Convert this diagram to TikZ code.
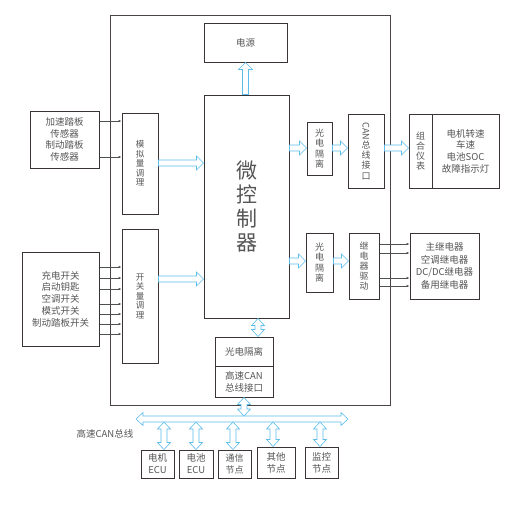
\documentclass[tikz,border=0pt]{standalone}
\usepackage{fontspec}
\usepackage{graphicx}
\usepackage{tikz}
\usetikzlibrary{calc,arrows.meta}
\setmainfont{Noto Sans CJK SC}
\definecolor{boxline}{HTML}{3A3434}
\definecolor{frameline}{HTML}{4A4444}
\definecolor{boxtext}{HTML}{555555}
\definecolor{flowblue}{HTML}{5CBDEB}
\definecolor{wireline}{HTML}{505050}

\begin{document}
\begin{tikzpicture}[x=1pt, y=-1pt,
        box/.style={draw=boxline, line width=1pt, text=boxtext, inner sep=0pt, align=center,
            font=\fontsize{9.5}{11.7}\selectfont},
        narrow/.style={box, font=\fontsize{9}{10.2}\selectfont},
        wire/.style={draw=wireline, line width=0.6pt, -{Latex[length=3pt,width=2.6pt]}},
        hollow/.style={draw=flowblue, line width=0.6pt, fill=white,
            to path={let \p1=($(\tikztotarget)-(\tikztostart)$), \n1={veclen(\x1,\y1)},
                \n2={atan2(\y1,\x1)} in
                ($(\tikztostart)+(\n2+90:3pt)$) -- ($(\tikztostart)+(\n2:\n1-7pt)+(\n2+90:3pt)$)
                -- ($(\tikztostart)+(\n2:\n1-7pt)+(\n2+90:7pt)$) -- (\tikztotarget)
                -- ($(\tikztostart)+(\n2:\n1-7pt)+(\n2-90:7pt)$)
                -- ($(\tikztostart)+(\n2:\n1-7pt)+(\n2-90:3pt)$)
                -- ($(\tikztostart)+(\n2-90:3pt)$) -- cycle}},
        hollow both/.style={draw=flowblue, line width=0.6pt, fill=white,
            to path={let \p1=($(\tikztotarget)-(\tikztostart)$), \n1={veclen(\x1,\y1)},
                \n2={atan2(\y1,\x1)} in
                (\tikztostart) -- ($(\tikztostart)+(\n2:7pt)+(\n2+90:6.5pt)$)
                -- ($(\tikztostart)+(\n2:7pt)+(\n2+90:3pt)$)
                -- ($(\tikztostart)+(\n2:\n1-7pt)+(\n2+90:3pt)$)
                -- ($(\tikztostart)+(\n2:\n1-7pt)+(\n2+90:6.5pt)$) -- (\tikztotarget)
                -- ($(\tikztostart)+(\n2:\n1-7pt)+(\n2-90:6.5pt)$)
                -- ($(\tikztostart)+(\n2:\n1-7pt)+(\n2-90:3pt)$)
                -- ($(\tikztostart)+(\n2:7pt)+(\n2-90:3pt)$)
                -- ($(\tikztostart)+(\n2:7pt)+(\n2-90:6.5pt)$) -- cycle}}]
    \useasboundingbox (0,0) rectangle (513,506);
    \draw[frameline, line width=1pt] (110,15) rectangle (390,405);

    \node[box, minimum width=83pt, minimum height=39pt] (power) at (245.5,42.5) {电源};
    \node[box, minimum width=85pt, minimum height=223pt, font=\fontsize{21}{24}\selectfont]
        (mcu) at (246.5,206.5) {微\\控\\制\\器};
    \node[box, minimum width=36pt, minimum height=101pt, font=\fontsize{8.5}{9.5}\selectfont]
        (analog) at (140,163.5) {模\\拟\\量\\调\\理};
    \node[box, minimum width=36pt, minimum height=134pt, font=\fontsize{8.5}{9.5}\selectfont]
        (switch) at (140,296) {开\\关\\量\\调\\理};
    \node[box, minimum width=69pt, minimum height=57pt] (sensor) at (64.5,139.5)
        {加速踏板\\传感器\\制动踏板\\传感器};
    \node[box, minimum width=77pt, minimum height=94pt] (switches) at (60.5,299)
        {充电开关\\启动钥匙\\空调开关\\模式开关\\制动踏板开关};

    \node[narrow, minimum width=25pt, minimum height=53pt] (iso1) at (319.5,148.5) {光\\电\\隔\\离};
    \node[narrow, minimum width=36pt, minimum height=74pt] (can) at (366,151)
        {\rotatebox{-90}{CAN}\\总\\线\\接\\口};
    \node[narrow, minimum width=23pt, minimum height=74pt] (dash) at (420.5,151) {组\\合\\仪\\表};
    \node[box, minimum width=67pt, minimum height=74pt] (dashinfo) at (465.5,151)
        {电机转速\\车速\\电池SOC\\故障指示灯};
    \node[narrow, minimum width=27pt, minimum height=59pt] (iso2) at (319.5,262.5) {光\\电\\隔\\离};
    \node[narrow, minimum width=30pt, minimum height=66pt] (drv) at (364,266) {继\\电\\器\\驱\\动};
    \node[box, minimum width=69pt, minimum height=66pt, font=\fontsize{9.5}{12.5}\selectfont]
        (relays) at (444.5,266) {主继电器\\空调继电器\\DC/DC继电器\\备用继电器};

    \node[box, minimum width=58pt, minimum height=29pt] (iso3) at (244,351.5) {光电隔离};
    \node[box, minimum width=58pt, minimum height=31pt, font=\fontsize{9.5}{12}\selectfont]
        (hcan) at (244,381.5) {高速CAN\\总线接口};

    \node[box, minimum width=33pt, minimum height=28pt, font=\fontsize{9.5}{12}\selectfont]
        (ecu1) at (157.5,464) {电机\\ECU};
    \node[box, minimum width=34pt, minimum height=28pt, font=\fontsize{9.5}{12}\selectfont]
        (ecu2) at (196,464) {电池\\ECU};
    \node[box, minimum width=33pt, minimum height=28pt, font=\fontsize{9}{12}\selectfont]
        (comm) at (234.5,464) {通信\\节点};
    \node[box, minimum width=38pt, minimum height=31pt, font=\fontsize{9.5}{12}\selectfont]
        (other) at (276,462.5) {其他\\节点};
    \node[box, minimum width=33pt, minimum height=31pt, font=\fontsize{9.5}{12}\selectfont]
        (mon) at (321.5,462.5) {监控\\节点};
    \node[text=boxtext, font=\fontsize{9.5}{12}\selectfont] (buslabel) at (105,434) {高速CAN总线};

    \coordinate (busL) at (136,419);
    \coordinate (busR) at (348,419);
    \coordinate (isotop) at ($(iso3.north)+(14,0)$);

    \foreach \yy in {121,157}
        \draw[wire] (sensor.east |- 0,\yy) -- (analog.west |- 0,\yy);
    \foreach \yy in {267,278,289,304,314,324,334}
        \draw[wire] (switches.east |- 0,\yy) -- (switch.west |- 0,\yy);
    \foreach \yy in {244,253,278,286}
        \draw[wire] (drv.east |- 0,\yy) -- (relays.west |- 0,\yy);

    \draw[hollow] (power.south |- mcu.north) to (power.south);
    \draw[hollow] (analog.east |- 0,163) to (mcu.west |- 0,163);
    \draw[hollow] (switch.east |- 0,279) to (mcu.west |- 0,279);
    \draw[hollow] (mcu.east |- 0,148) to (iso1.west |- 0,148);
    \draw[hollow] (iso1.east |- 0,148) to (can.west |- 0,148);
    \draw[hollow] (can.east |- 0,148) to (dash.west |- 0,148);
    \draw[hollow] (mcu.east |- 0,261) to (iso2.west |- 0,261);
    \draw[hollow] (iso2.east |- 0,261) to (drv.west |- 0,261);
    \draw[hollow both] (isotop |- mcu.south) to (isotop);
    \draw[hollow both] (busL) to (busR);
    \draw[hollow both] ([yshift=3pt]hcan.south |- busL) to (hcan.south);
    \foreach \nm/\xp in {ecu1/164, ecu2/196, comm/233, other/273, mon/320}
        \draw[hollow both] (\xp,422) to (\nm.north -| \xp,0);
\end{tikzpicture}
\end{document}
